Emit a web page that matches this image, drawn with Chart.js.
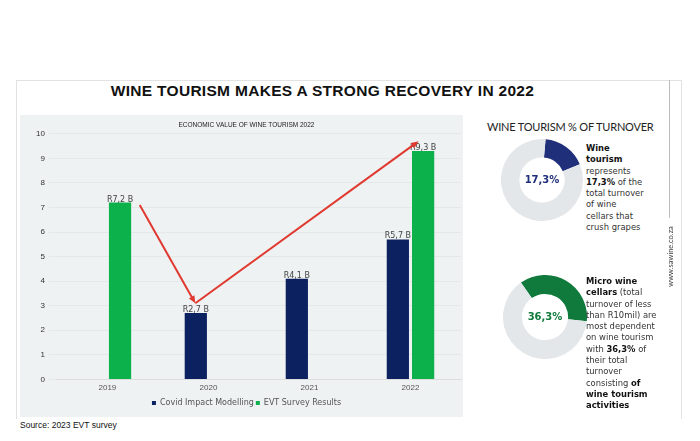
<!DOCTYPE html>
<html>
<head>
<meta charset="utf-8">
<script src="https://cdn.jsdelivr.net/npm/chart.js@4"></script>
<style>
  body { margin: 0; width: 700px; height: 441px; background: #fff; font-family: Lato, "Open Sans", sans-serif; position: relative; overflow: hidden; }
  .frame { position: absolute; left: 16px; top: 80px; width: 664px; height: 338px; border: 1px solid #e2e2e2; border-bottom: none; }
  h1 { position: absolute; left: 0; width: 645px; top: 82px; margin: 0; text-align: center; font-size: 15.5px; font-weight: 900; letter-spacing: 0.3px; color: #111; font-family: "Liberation Sans", Arial, sans-serif; }
  .panel { position: absolute; left: 20px; top: 115px; width: 443px; height: 302px; background: #eef2f2; }
  .src { position: absolute; left: 20px; top: 420px; font-size: 8.5px; color: #111; font-family: "Liberation Sans", sans-serif; }
  .rtitle { position: absolute; left: 487px; top: 120px; font-size: 11px; letter-spacing: -0.2px; color: #222; }
  .d { position: absolute; }
  .txt { position: absolute; font-family: "DejaVu Sans", sans-serif; font-size: 8.4px; line-height: 11.3px; color: #333; }
  .txt b { color: #111; }
  .vline { position: absolute; left: 669px; top: 80px; width: 1px; height: 138px; background: #bbb; }
  .www { position: absolute; left: 632px; top: 252px; width: 76px; text-align: center; transform: rotate(-90deg); font-size: 7.5px; color: #444; }
</style>
</head>
<body>
<div class="frame"></div>
<h1>WINE TOURISM MAKES A STRONG RECOVERY IN 2022</h1>
<div class="panel"><canvas id="bar" width="443" height="302"></canvas></div>
<div class="src">Source: 2023 EVT survey</div>
<div class="rtitle">WINE TOURISM % OF TURNOVER</div>
<div class="d" style="left:501px;top:139px;width:82px;height:82px"><canvas id="d1" width="82" height="82"></canvas></div>
<div class="d" style="left:503px;top:275px;width:84px;height:84px"><canvas id="d2" width="84" height="84"></canvas></div>
<div class="txt" style="left:586px;top:143px;width:60px"><b>Wine tourism</b> represents <b>17,3%</b> of the total turnover of wine cellars that crush grapes</div>
<div class="txt" style="left:586px;top:276px;width:74px"><b>Micro wine cellars</b> (total turnover of less than R10mil) are most dependent on wine tourism with <b>36,3%</b> of their total turnover consisting <b>of wine tourism activities</b></div>
<div class="vline"></div>
<div class="www">www.sawine.co.za</div>
<script>
const years = ["2019", "2020", "2021", "2022"];
const covidModel = [null, 2.7, 4.1, 5.7];
const evtSurvey = [7.2, null, null, 9.3];
const yTicks = [0, 1, 2, 3, 4, 5, 6, 7, 8, 9, 10];
const arrowPath = [{x: 0.32, y: 7.1}, {x: 0.87, y: 3.1}, {x: 3.08, y: 9.7}];
const share1 = [17.3, 82.7];
const share2 = [36.3, 63.7];

const fmt = v => "R" + v.toFixed(1).replace(".", ",") + " B";

const extras = {
  id: "extras",
  afterDatasetsDraw(chart) {
    const ctx = chart.ctx;
    ctx.save();
    ctx.font = "8px 'DejaVu Sans', sans-serif";
    ctx.fillStyle = "#444";
    ctx.textAlign = "center";
    chart.data.datasets.forEach((ds, i) => {
      chart.getDatasetMeta(i).data.forEach((el, j) => {
        if (ds.data[j] == null) return;
        ctx.fillText(fmt(ds.data[j]), el.x, el.y - 3);
      });
    });
    const xs = chart.scales.x, ys = chart.scales.y;
    const pts = arrowPath.map(p => [xs.getPixelForDecimal((p.x + 0.5) / years.length), ys.getPixelForValue(p.y)]);
    ctx.strokeStyle = "#e0392f";
    ctx.fillStyle = "#e0392f";
    ctx.lineWidth = 2;
    for (let k = 0; k < pts.length - 1; k++) {
      const [x1, y1] = pts[k], [x2, y2] = pts[k + 1];
      const a = Math.atan2(y2 - y1, x2 - x1);
      ctx.beginPath(); ctx.moveTo(x1, y1); ctx.lineTo(x2 - 5 * Math.cos(a), y2 - 5 * Math.sin(a)); ctx.stroke();
      ctx.beginPath();
      ctx.moveTo(x2, y2);
      ctx.lineTo(x2 - 8 * Math.cos(a - 0.4), y2 - 8 * Math.sin(a - 0.4));
      ctx.lineTo(x2 - 8 * Math.cos(a + 0.4), y2 - 8 * Math.sin(a + 0.4));
      ctx.closePath(); ctx.fill();
    }
    ctx.restore();
  }
};

new Chart(document.getElementById("bar").getContext("2d"), {
  type: "bar",
  data: {
    labels: years,
    datasets: [
      { label: "Covid Impact Modelling", data: covidModel, backgroundColor: "#0b2160" },
      { label: "EVT Survey Results", data: evtSurvey, backgroundColor: "#0db14b" }
    ]
  },
  options: {
    responsive: false,
    animation: false,
    categoryPercentage: 0.5,
    barPercentage: 0.88,
    layout: { padding: { left: 12, right: 2, top: 8, bottom: 0 } },
    plugins: {
      title: { display: true, text: "ECONOMIC VALUE OF WINE TOURISM 2022", color: "#222", font: { size: 6.5, weight: "normal", family: "'Liberation Sans', sans-serif" }, padding: { top: -2, bottom: 5 } },
      legend: { position: "bottom", labels: { boxWidth: 4, boxHeight: 4, color: "#555", font: { size: 8, family: "'DejaVu Sans', sans-serif" }, padding: 2 } },
      tooltip: { enabled: false }
    },
    scales: {
      x: { grid: { display: false, drawTicks: false }, border: { color: "#ddd" }, ticks: { color: "#555", font: { size: 8 }, padding: 4 } },
      y: {
        min: 0, max: 10,
        afterBuildTicks: s => { s.ticks = yTicks.map(v => ({ value: v })); },
        grid: { color: "#e4e8e8" }, border: { display: false },
        ticks: { color: "#333", font: { size: 8 }, padding: 4 }
      }
    }
  },
  plugins: [extras]
});

function donut(id, vals, color, label, rot) {
  new Chart(document.getElementById(id), {
    type: "doughnut",
    data: { labels: ["share", "rest"], datasets: [{ data: vals, backgroundColor: [color, "#e3e7ea"], borderWidth: 0 }] },
    options: {
      responsive: false, animation: false, cutout: "55%", rotation: rot,
      plugins: { legend: { display: false }, tooltip: { enabled: false } }
    },
    plugins: [{
      id: "center",
      afterDraw(c) {
        const ctx = c.ctx, a = c.chartArea;
        ctx.save();
        ctx.fillStyle = color; ctx.textAlign = "center"; ctx.textBaseline = "middle";
        ctx.font = "bold 10px 'DejaVu Sans', sans-serif";
        ctx.fillText(label, (a.left + a.right) / 2, (a.top + a.bottom) / 2);
        ctx.restore();
      }
    }]
  });
}
donut("d1", share1, "#1f2f7a", "17,3%", 5);
donut("d2", share2, "#0f7a3c", "36,3%", -35);
</script>
</body>
</html>
